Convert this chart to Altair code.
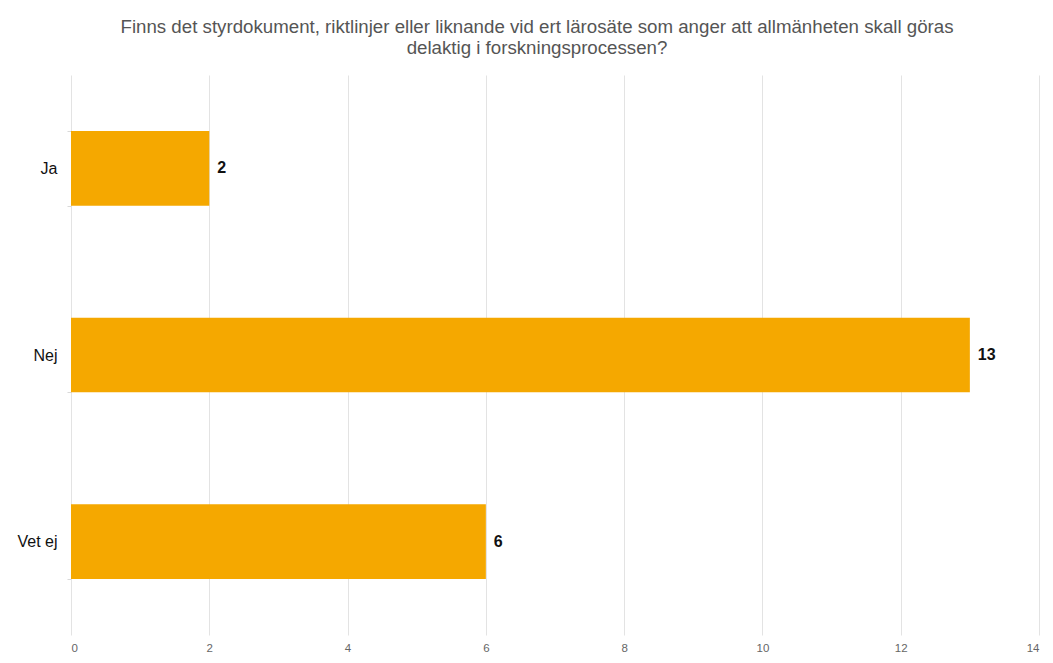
import altair as alt
import pandas as pd

categories = ["Ja", "Nej", "Vet ej"]
counts = [2, 13, 6]
tick_values = [0, 2, 4, 6, 8, 10, 12, 14]
title_lines = [
    "Finns det styrdokument, riktlinjer eller liknande vid ert lärosäte som anger att allmänheten skall göras",
    "delaktig i forskningsprocessen?",
]

df = pd.DataFrame({"svar": categories, "antal": counts})

base = alt.Chart(df).encode(
    y=alt.Y(
        "svar:N",
        sort=categories,
        title=None,
        scale=alt.Scale(paddingInner=0.6, paddingOuter=0.3),
        axis=alt.Axis(
            tickBand="extent",
            ticks=True,
            tickSize=4,
            tickColor="#d9d9d9",
            domain=False,
            grid=False,
            labelFontSize=16,
            labelColor="#111111",
            labelPadding=10,
            labelFont="Liberation Sans",
        ),
    ),
    x=alt.X(
        "antal:Q",
        title=None,
        scale=alt.Scale(domain=[0, 14], nice=False),
        axis=alt.Axis(
            values=tick_values,
            ticks=False,
            domain=False,
            grid=True,
            gridColor="#e3e3e3",
            labelFontSize=11.5,
            labelColor="#666666",
            labelPadding=7,
            labelFont="Liberation Sans",
        ),
    ),
)

bars = base.mark_bar(color="#F5A800")
labels = base.mark_text(
    align="left", baseline="middle", dx=8, fontSize=16, fontWeight="bold",
    color="#111111", font="Liberation Sans"
).encode(text="antal:Q")

chart = (
    (bars + labels)
    .properties(
        width=968,
        height=560,
        autosize="none",
        padding={"left": 63, "top": 67, "right": 6, "bottom": 20},
        title=alt.TitleParams(
            text=title_lines,
            fontSize=18.7,
            fontWeight="normal",
            color="#555555",
            font="Liberation Sans",
            lineHeight=21,
            anchor="middle",
            dx=-18,
            offset=9,
        ),
    )
    .configure_view(stroke=None)
)

chart.save("out.html", embed_options={"renderer": "svg", "actions": False})
